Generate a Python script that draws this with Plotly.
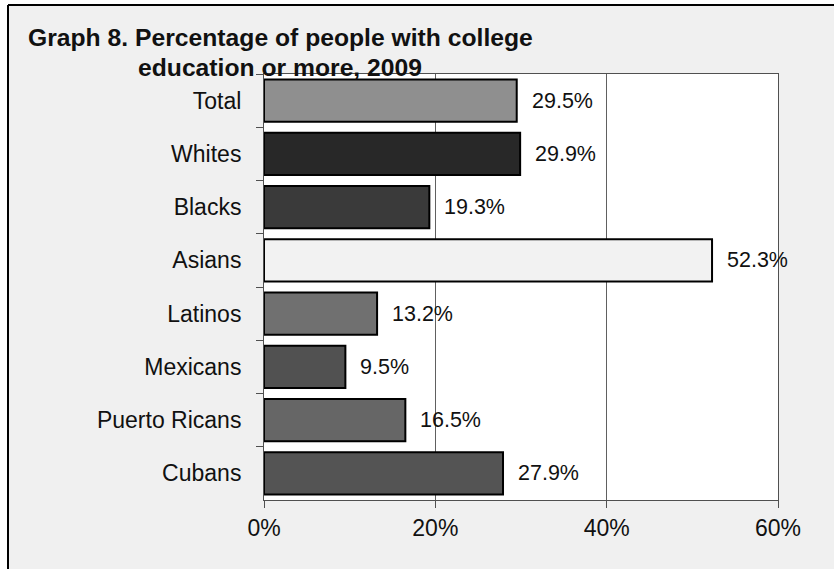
import plotly.graph_objects as go

categories = ["Total", "Whites", "Blacks", "Asians", "Latinos", "Mexicans", "Puerto Ricans", "Cubans"]
values = [29.5, 29.9, 19.3, 52.3, 13.2, 9.5, 16.5, 27.9]
bar_colors = ["#8f8f8f", "#282828", "#3a3a3a", "#f2f2f2", "#707070", "#515151", "#666666", "#545454"]
x_ticks = [0, 20, 40, 60]
x_tick_labels = ["0%", "20%", "40%", "60%"]
title_lines = ["Graph 8. Percentage of people with college", "education or more, 2009"]

W, H = 834, 569
L, R, T, B = 264, 56, 74, 69
PW, PH = W - L - R, H - T - B

def px_x(x):
    return (x - L) / PW

def px_y(y):
    return (H - B - y) / PH

FONT = "Liberation Sans, Arial, sans-serif"

fig = go.Figure(go.Bar(
    x=values, y=categories, orientation="h",
    marker=dict(color=bar_colors, line=dict(color="black", width=2)),
    hoverinfo="skip",
))

annotations = []
for c, v in zip(categories, values):
    annotations.append(dict(x=v, y=c, xref="x", yref="y", text=f"{v}%", showarrow=False,
                            xanchor="left", xshift=13, font=dict(size=21.5, color="#111", family=FONT)))

annotations.append(dict(x=px_x(280), y=px_y(38), xref="paper", yref="paper", text=f"<b>{title_lines[0]}</b>",
                        showarrow=False, xanchor="center", yanchor="middle",
                        font=dict(size=24.7, color="#111", family=FONT)))
annotations.append(dict(x=px_x(280), y=px_y(67.5), xref="paper", yref="paper", text=f"<b>{title_lines[1]}</b>",
                        showarrow=False, xanchor="center", yanchor="middle",
                        font=dict(size=24.7, color="#111", family=FONT)))

shapes = [
    dict(type="rect", xref="paper", yref="paper", x0=px_x(-10), x1=px_x(8), y0=px_y(-10), y1=px_y(H + 10),
         fillcolor="white", line=dict(width=0), layer="above"),
    dict(type="rect", xref="paper", yref="paper", x0=px_x(-10), x1=px_x(W + 10), y0=px_y(-10), y1=px_y(5),
         fillcolor="white", line=dict(width=0), layer="above"),
    dict(type="line", xref="paper", yref="paper", x0=px_x(8), x1=px_x(8), y0=px_y(5), y1=px_y(H + 10),
         line=dict(color="black", width=2)),
    dict(type="line", xref="paper", yref="paper", x0=px_x(8), x1=px_x(W + 10), y0=px_y(5), y1=px_y(5),
         line=dict(color="black", width=2)),
]

fig.update_layout(
    width=W, height=H,
    margin=dict(l=L, r=R, t=T, b=B),
    paper_bgcolor="#f0f0f0", plot_bgcolor="white",
    bargap=0.21, showlegend=False,
    font=dict(family=FONT, size=23, color="#111"),
    annotations=annotations, shapes=shapes,
    xaxis=dict(range=[0, 60], tickvals=x_ticks, ticktext=x_tick_labels,
               showgrid=True, gridcolor="#606060", gridwidth=1, zeroline=False,
               showline=True, linecolor="#505050", linewidth=1, mirror=True,
               ticks="outside", ticklen=7, tickcolor="#505050",
               tickfont=dict(size=23, family=FONT, color="#111"), fixedrange=True),
    yaxis=dict(autorange="reversed", type="category", showgrid=False,
               showline=True, linecolor="#505050", linewidth=1, mirror=True,
               ticks="outside", ticklen=7, tickcolor="#505050", tickson="boundaries",
               ticklabelstandoff=17,
               tickfont=dict(size=23, family=FONT, color="#111"), fixedrange=True),
)

fig.write_html("out.html", config={"displayModeBar": False})
